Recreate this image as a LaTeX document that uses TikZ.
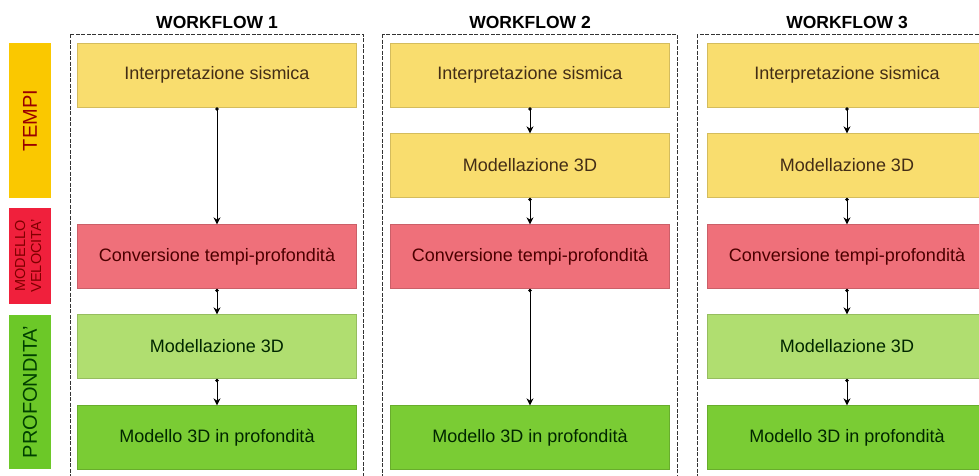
\documentclass[tikz,border=0pt]{standalone}
\usepackage{fontspec}
\setmainfont{Liberation Sans}
\usetikzlibrary{arrows.meta}

\definecolor{tempicol}{RGB}{250,200,0}
\definecolor{velcol}{RGB}{240,32,60}
\definecolor{profcol}{RGB}{108,200,40}
\definecolor{boxyellow}{RGB}{249,221,110}
\definecolor{boxred}{RGB}{239,112,122}
\definecolor{boxlgreen}{RGB}{176,222,112}
\definecolor{boxdgreen}{RGB}{122,204,52}
\newcommand{\velfont}{\fontsize{14.5}{16}\selectfont}

\tikzset{
	stepnode/.style={minimum width=279pt, minimum height=64pt, inner sep=0pt,
		font=\fontsize{18}{20}\selectfont, draw=#1!85!black, fill=#1, line width=0.4pt},
	sidebar/.style={rotate=90, minimum height=42pt, inner sep=0pt, fill=#1},
	wftitle/.style={font=\bfseries\fontsize{17.5}{19}\selectfont},
	wfbox/.style={draw=black!80, dash pattern=on 4pt off 1.5pt, line width=0.9pt},
	flow/.style={{Circle[length=3.5pt]}-{Stealth[length=7pt,width=7pt]}, line width=0.8pt}
}

\begin{document}
\begin{tikzpicture}[x=1pt, y=-1pt]
		%%%%% START %%%%%
		\useasboundingbox (0,0) rectangle (979,475);
		
		% side bars
		\node[sidebar=tempicol, minimum width=155pt, text=red!60!black, font=\fontsize{20}{22}\selectfont] (tempi) at (30,120.5) {TEMPI};
		\node[sidebar=velcol, minimum width=96pt, text=red!50!black] (vel) at (30,256) {\velfont\begin{tabular}{@{}c@{}}MODELLO\\VELOCITA'\end{tabular}};
		\node[sidebar=profcol, minimum width=154pt, text=green!25!black, font=\fontsize{20}{22}\selectfont] (prof) at (30,392) {PROFONDITA'};
		
		% dashed frames
		\draw[wfbox] (70,34) rectangle (363,480);
		\draw[wfbox] (382,34) rectangle (677,480);
		\draw[wfbox] (697,34) rectangle (994,480);
		
		\node[wftitle] (t1) at (217,22) {WORKFLOW 1};
		\node[wftitle] (t2) at (530,22) {WORKFLOW 2};
		\node[wftitle] (t3) at (847,22) {WORKFLOW 3};
		
		% workflow 1
		\node[stepnode=boxyellow, text=brown!35!black] (a1) at (217,75) {Interpretazione sismica};
		\node[stepnode=boxred, text=red!30!black] (c1) at (217,256.5) {Conversione tempi-profondità};
		\node[stepnode=boxlgreen, text=green!15!black] (d1) at (217,346.5) {Modellazione 3D};
		\node[stepnode=boxdgreen, text=green!15!black] (e1) at (217,437.5) {Modello 3D in profondità};
		\draw[flow] (a1) -- (c1);
		\draw[flow] (c1) -- (d1);
		\draw[flow] (d1) -- (e1);
		
		% workflow 2
		\node[stepnode=boxyellow, text=brown!35!black] (a2) at (530,75) {Interpretazione sismica};
		\node[stepnode=boxyellow, text=brown!35!black] (b2) at (530,165.5) {Modellazione 3D};
		\node[stepnode=boxred, text=red!30!black] (c2) at (530,256.5) {Conversione tempi-profondità};
		\node[stepnode=boxdgreen, text=green!15!black] (e2) at (530,437.5) {Modello 3D in profondità};
		\draw[flow] (a2) -- (b2);
		\draw[flow] (b2) -- (c2);
		\draw[flow] (c2) -- (e2);
		
		% workflow 3
		\node[stepnode=boxyellow, text=brown!35!black] (a3) at (847,75) {Interpretazione sismica};
		\node[stepnode=boxyellow, text=brown!35!black] (b3) at (847,165.5) {Modellazione 3D};
		\node[stepnode=boxred, text=red!30!black] (c3) at (847,256.5) {Conversione tempi-profondità};
		\node[stepnode=boxlgreen, text=green!15!black] (d3) at (847,346.5) {Modellazione 3D};
		\node[stepnode=boxdgreen, text=green!15!black] (e3) at (847,437.5) {Modello 3D in profondità};
		\draw[flow] (a3) -- (b3);
		\draw[flow] (b3) -- (c3);
		\draw[flow] (c3) -- (d3);
		\draw[flow] (d3) -- (e3);
		
		%%%%% END %%%%%
\end{tikzpicture}
\end{document}
